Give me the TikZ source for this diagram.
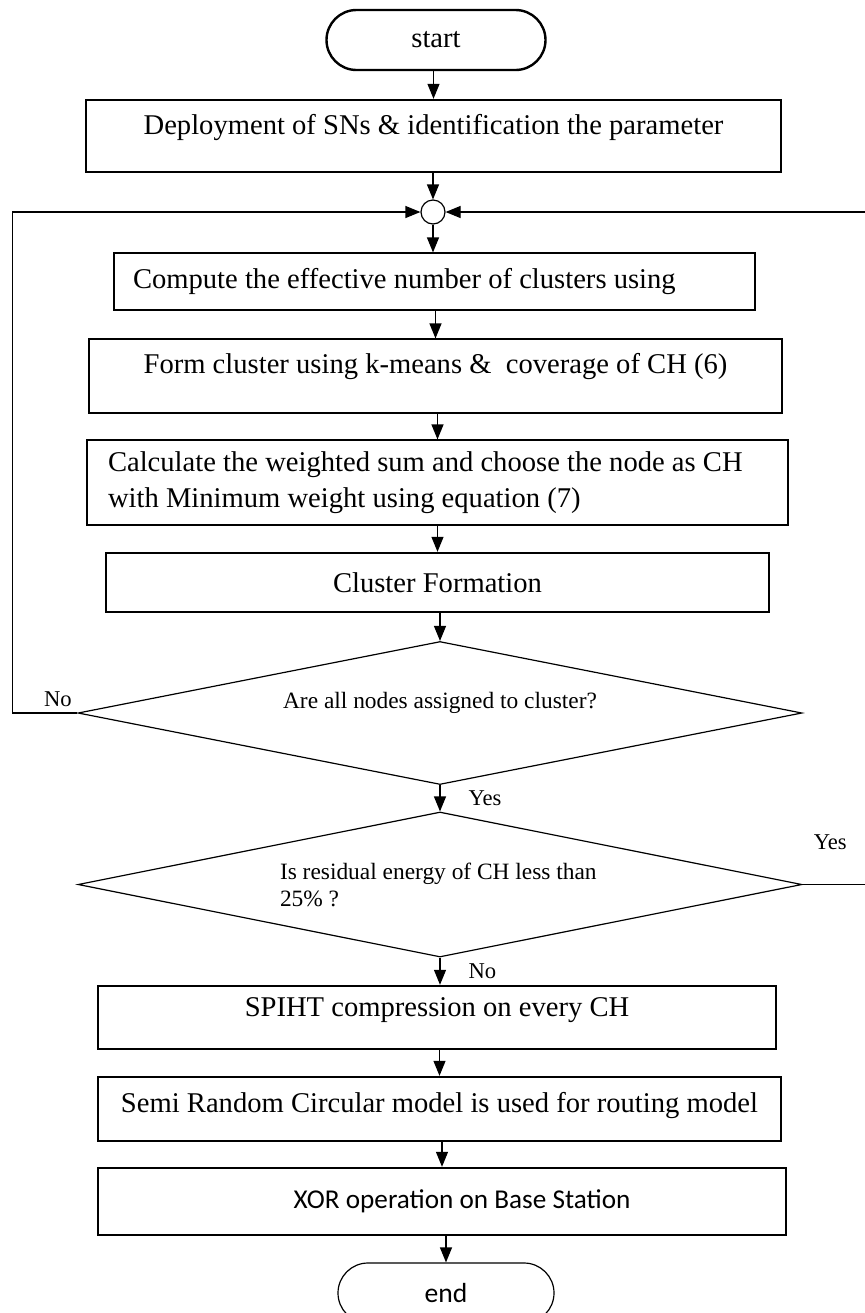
\documentclass[tikz,border=0pt]{standalone}
\usepackage{fontspec}
\setmainfont{Liberation Serif}
\newfontfamily\carlito{Carlito}
\usetikzlibrary{shapes.geometric,shapes.misc,arrows.meta}

\begin{document}
\begin{tikzpicture}[
	x=0.5pt, y=-0.5pt,
	every node/.style = {inner sep=3pt, font=\fontsize{14.3}{18}\selectfont},
	term/.style = {draw, rounded rectangle, minimum height=30pt},
	procbox/.style = {draw, rectangle, align=center},
	thickbox/.style = {procbox, line width=1.2pt},
	thinbox/.style = {procbox, line width=0.6pt},
	decision/.style = {draw, diamond, shape aspect=5, inner sep=0pt,
			line width=0.6pt, font=\fontsize{11.7}{13.5}\selectfont},
	lbl/.style = {font=\fontsize{11.3}{13}\selectfont},
	arr/.style = {line width=0.6pt, -{Triangle[length=7.5pt,width=6pt]}}
	]

	\useasboundingbox (0,0) rectangle (865,1313);

	\node[term, line width=1.2pt, minimum width=115.5pt] (start) at (436,40) {start};
	\node[thickbox, minimum width=347.5pt, minimum height=36pt, text depth=11.5pt] (dep) at (433.5,136)
		{Deployment of SNs \& identification the parameter};
	\node[draw, circle, minimum size=12pt, inner sep=0pt, line width=0.6pt] (jn) at (433,212) {};
	\node[thinbox, align=flush left, text width=301.5pt, inner xsep=9.5pt, minimum height=28.5pt] (eff) at (434.5,281.5)
		{Compute the effective number of clusters using};
	\node[thinbox, minimum width=346.5pt, minimum height=37pt, text depth=12.5pt] (form) at (435.5,376)
		{Form cluster using k-means \& \ coverage of CH (6)};
	\node[thinbox, align=flush left, text width=329.5pt, inner xsep=10.5pt, minimum height=42.5pt] (wsum) at (437.5,482.5)
		{Calculate the weighted sum and choose the node as CH\\with Minimum weight using equation (7)};
	\node[thickbox, minimum width=331.5pt, minimum height=29.5pt] (cf) at (437.5,582.5) {Cluster Formation};
	\node[decision, minimum width=362pt, minimum height=71.5pt, text depth=12.5pt] (q1) at (440,713)
		{Are all nodes assigned to cluster?};
	\node[decision, minimum width=362pt, minimum height=72.5pt, align=flush left, text width=160pt] (q2) at (440,884.5)
		{Is residual energy of CH less than\\25\% ?};
	\node[thickbox, minimum width=339pt, minimum height=31.5pt, text depth=10pt] (spiht) at (437,1017.5)
		{SPIHT compression on every CH};
	\node[thickbox, minimum width=341.5pt, minimum height=32pt, text depth=7pt] (route) at (439.5,1109)
		{Semi Random Circular model is used for routing model};
	\node[thickbox, minimum width=344pt, minimum height=33.5pt, font=\carlito\fontsize{13.6}{16}\selectfont] (xor) at (442,1201.5)
		{\hspace*{20pt}XOR operation on Base Station};
	\node[term, line width=0.6pt, minimum width=114pt, font=\carlito\fontsize{13.8}{16}\selectfont] (end) at (446,1293) {end};

	\draw[arr] (dep.north |- start.south) -- (dep.north);
	\draw[arr] (jn.north |- dep.south) -- (jn.north);
	\draw[arr] (jn.south) -- (jn.south |- eff.north);
	\draw[arr] (form.north |- eff.south) -- (form.north);
	\draw[arr] (wsum.north |- form.south) -- (wsum.north);
	\draw[arr] (cf.north |- wsum.south) -- (cf.north);
	\draw[arr] (q1.north |- cf.south) -- (q1.north);
	\draw[arr] (q1.south) -- node[lbl, right=11pt] {Yes} (q1.south |- q2.north);
	\draw[arr] (q2.south) -- node[lbl, right=11pt] {No} (q2.south |- spiht.north);
	\draw[arr] (route.north |- spiht.south) -- (route.north);
	\draw[arr] (xor.north |- route.south) -- (xor.north);
	\draw[arr] (end.north |- xor.south) -- (end.north);
	\draw[arr] (q1.west) -- node[lbl, above, pos=0.3] {No} ++(-65,0) |- (jn.west);
	\draw[arr] (q2.east) -- node[lbl, above=14pt, pos=0.42] {Yes} ++(66,0) |- (jn.east);
\end{tikzpicture}
\end{document}
